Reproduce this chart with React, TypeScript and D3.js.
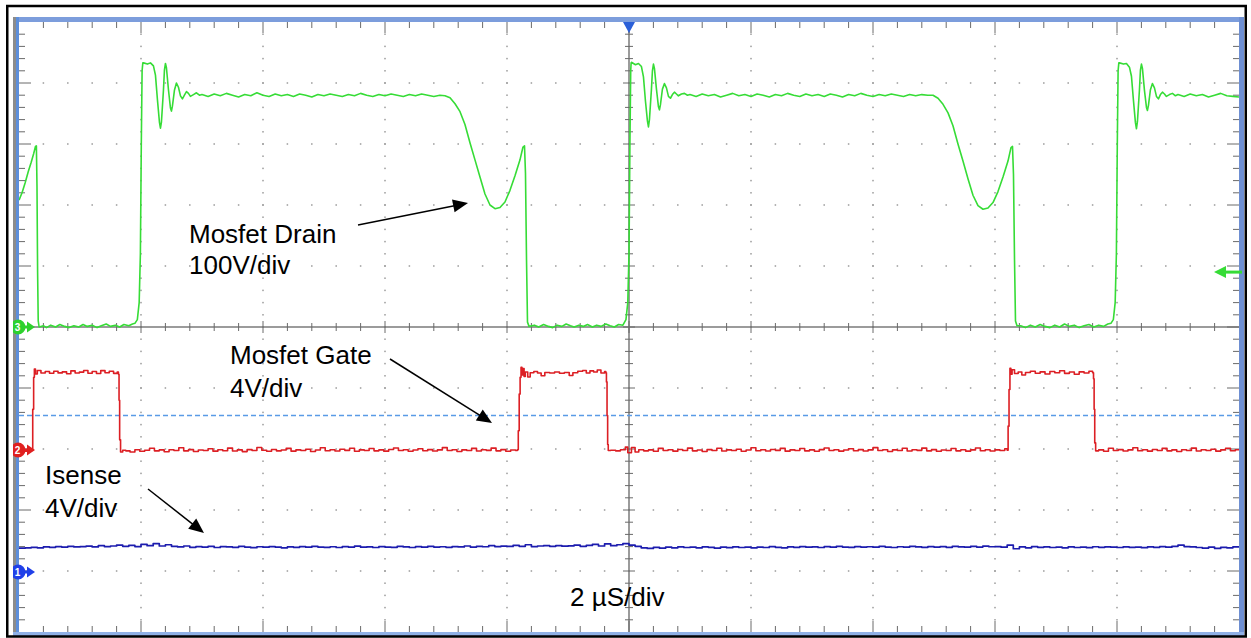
import React from 'react';
import * as d3 from 'd3';

// ---- chart values (read from the scope capture) ----
// time in µs (2 µS/div, 10 divisions), centre = trigger
const timeDomain: [number, number] = [-10, 10];
// Mosfet Drain: 100 V/div, ground on centre line
const drainDomain: [number, number] = [-500, 500];
// Mosfet Gate: 4 V/div, ground two divisions below centre
const gateDomain: [number, number] = [-12, 28];
// Isense: 4 V/div, ground four divisions below centre
const isenseDomain: [number, number] = [-4, 36];
const gateTriggerLevel = 2.2; // V, blue dashed line

// Drain trace [µs, V]
const drainTrace: [number, number][] = [
  [-10.0, 208], [-9.95, 220], [-9.9, 236], [-9.85, 254], [-9.8, 270], [-9.76, 284], [-9.73, 296], [-9.715, 297],
  [-9.705, 230], [-9.695, 90], [-9.685, 10], [-9.67, 0],
  [-9.6, 2], [-9.55, -1], [-9.48, 3], [-9.4, 0], [-9.33, 4], [-9.25, 1], [-9.18, -1], [-9.1, 2], [-9.02, 0],
  [-8.95, 4], [-8.88, 1], [-8.8, 3], [-8.72, -1], [-8.65, 2], [-8.57, 5], [-8.5, 1], [-8.42, 3], [-8.35, 0],
  [-8.28, 4], [-8.2, 2], [-8.14, 5], [-8.1, 6], [-8.06, 12], [-8.03, 40], [-8.01, 120], [-7.995, 300], [-7.982, 420],
  [-7.97, 433],
  [-7.96, 433], [-7.894, 431], [-7.845, 433], [-7.796, 428], [-7.763, 413], [-7.73, 372], [-7.698, 336], [-7.681, 326],
  [-7.665, 336], [-7.632, 388], [-7.616, 421], [-7.599, 432], [-7.583, 425], [-7.55, 389], [-7.517, 359], [-7.501, 354],
  [-7.485, 362], [-7.452, 388], [-7.419, 400], [-7.386, 393], [-7.353, 379], [-7.321, 374], [-7.288, 380], [-7.255, 386],
  [-7.222, 383], [-7.19, 378], [-7.14, 381], [-7.091, 384], [-7.042, 380],
  [-7.0, 381], [-6.9, 378], [-6.8, 382], [-6.7, 379], [-6.6, 383], [-6.5, 380], [-6.4, 377], [-6.3, 381], [-6.2, 379],
  [-6.1, 384], [-6.0, 380], [-5.9, 378], [-5.8, 382], [-5.7, 379], [-5.6, 381], [-5.5, 378], [-5.4, 382], [-5.3, 380],
  [-5.2, 377], [-5.1, 381], [-5.0, 379], [-4.9, 382], [-4.8, 380], [-4.7, 378], [-4.6, 381], [-4.5, 379], [-4.4, 383],
  [-4.3, 380], [-4.2, 378], [-4.1, 381], [-4.0, 379], [-3.9, 382], [-3.8, 380], [-3.7, 378], [-3.6, 381], [-3.5, 379],
  [-3.4, 382], [-3.3, 380], [-3.2, 378], [-3.1, 380],
  [-3.016, 379], [-2.934, 376], [-2.852, 366], [-2.77, 353], [-2.689, 332], [-2.607, 302], [-2.525, 274], [-2.443, 246],
  [-2.361, 218], [-2.279, 200], [-2.197, 194], [-2.115, 196], [-2.033, 205], [-1.951, 224], [-1.869, 248], [-1.787, 274],
  [-1.738, 295], [-1.713, 297], [-1.697, 252], [-1.68, 110], [-1.664, 8], [-1.639, 1],
  [-1.55, 3], [-1.48, 0], [-1.4, 4], [-1.32, 1], [-1.25, -1], [-1.18, 3], [-1.1, 1], [-1.03, 5], [-0.96, 2], [-0.9, 0],
  [-0.82, 3], [-0.75, 1], [-0.68, 4], [-0.6, 0], [-0.53, 3], [-0.46, 1], [-0.38, 5], [-0.31, 2], [-0.24, 0], [-0.17, 4],
  [-0.1, 3], [-0.05, 12], [-0.02, 40], [0.0, 120], [0.015, 300], [0.028, 420], [0.035, 433],
  [0.04, 434], [0.106, 430], [0.155, 432], [0.204, 427], [0.237, 410], [0.27, 370], [0.302, 338], [0.319, 328],
  [0.335, 340], [0.368, 390], [0.384, 420], [0.401, 431], [0.417, 424], [0.45, 390], [0.483, 361], [0.499, 356],
  [0.515, 364], [0.548, 390], [0.581, 399], [0.614, 392], [0.647, 378], [0.679, 375], [0.712, 381], [0.745, 385],
  [0.778, 382], [0.81, 379], [0.86, 382], [0.909, 383], [0.958, 380],
  [1.0, 381], [1.1, 378], [1.2, 382], [1.3, 379], [1.4, 381], [1.5, 377], [1.6, 380], [1.7, 383], [1.8, 379], [1.9, 381],
  [2.0, 378], [2.1, 382], [2.2, 380], [2.3, 377], [2.4, 381], [2.5, 379], [2.6, 383], [2.7, 380], [2.8, 378], [2.9, 382],
  [3.0, 379], [3.1, 381], [3.2, 378], [3.3, 382], [3.4, 380], [3.5, 377], [3.6, 381], [3.7, 379], [3.8, 383], [3.9, 380],
  [4.0, 378], [4.1, 381], [4.2, 379], [4.3, 382], [4.4, 380], [4.5, 378], [4.6, 381], [4.7, 379], [4.8, 381], [4.9, 380],
  [4.984, 380], [5.066, 375], [5.148, 365], [5.23, 351], [5.311, 330], [5.393, 300], [5.475, 272], [5.557, 243],
  [5.639, 216], [5.721, 199], [5.803, 193], [5.885, 195], [5.967, 204], [6.049, 222], [6.131, 246], [6.213, 272],
  [6.262, 294], [6.287, 296], [6.303, 250], [6.32, 110], [6.336, 10], [6.361, 2],
  [6.42, 2], [6.5, -1], [6.58, 3], [6.66, 0], [6.74, 4], [6.82, 1], [6.9, -1], [6.98, 3], [7.06, 0], [7.14, 5], [7.22, 1],
  [7.3, 3], [7.38, -1], [7.46, 2], [7.54, 4], [7.62, 0], [7.7, 3], [7.78, 1], [7.85, 5],
  [7.9, 6], [7.94, 12], [7.97, 40], [7.99, 120], [8.005, 300], [8.018, 420], [8.03, 433],
  [8.04, 433], [8.106, 431], [8.155, 432], [8.204, 426], [8.237, 411], [8.27, 371], [8.302, 335], [8.319, 325],
  [8.335, 337], [8.368, 389], [8.384, 421], [8.401, 431], [8.417, 424], [8.45, 388], [8.483, 360], [8.499, 355],
  [8.515, 363], [8.548, 389], [8.581, 399], [8.614, 392], [8.647, 378], [8.679, 374], [8.712, 381], [8.745, 385],
  [8.778, 382], [8.81, 378], [8.86, 381], [8.909, 383], [8.958, 379],
  [9.0, 381], [9.1, 378], [9.2, 382], [9.3, 379], [9.4, 381], [9.5, 377], [9.6, 380], [9.7, 383], [9.8, 379], [9.9, 378],
  [10.0, 377],
];

// Gate trace [µs, V]
const gateTrace: [number, number][] = [
  [-10, -0.08], [-9.93, -0.15], [-9.87, -0.05], [-9.81, -0.12], [-9.79, -0.08],
  [-9.775, 2.6], [-9.76, 4.7], [-9.748, 5.25], [-9.73, 4.92], [-9.7, 5.15], [-9.64, 4.98], [-9.57, 5.08], [-9.5, 4.97],
  [-9.43, 5.1], [-9.36, 4.99], [-9.29, 5.06], [-9.22, 4.93], [-9.15, 5.12], [-9.08, 4.98], [-9.01, 5.04], [-8.94, 5.15],
  [-8.87, 4.97], [-8.8, 5.08], [-8.73, 4.95], [-8.66, 5.14], [-8.59, 5.0], [-8.52, 5.1], [-8.45, 4.96], [-8.39, 5.04],
  [-8.37, 4.9], [-8.36, 3.2], [-8.35, 0.6], [-8.335, -0.2],
  [-8.3, -0.08], [-8.25, -0.12], [-8.18, -0.2], [-8.1, -0.05], [-8.02, -0.15], [-7.94, -0.08], [-7.86, 0.05],
  [-7.78, -0.12], [-7.7, -0.06], [-7.62, -0.18], [-7.54, -0.05], [-7.46, -0.1], [-7.38, 0.08], [-7.3, -0.12],
  [-7.22, -0.04], [-7.14, -0.16], [-7.06, -0.07], [-6.98, -0.1], [-6.9, 0.02], [-6.82, -0.14], [-6.74, -0.05],
  [-6.66, -0.11], [-6.58, 0.06], [-6.5, -0.13], [-6.42, -0.06], [-6.34, -0.17], [-6.26, -0.04], [-6.18, -0.1],
  [-6.1, 0.1], [-6.02, -0.08], [-5.94, -0.15], [-5.86, -0.03], [-5.78, -0.12], [-5.7, -0.07], [-5.62, 0.04],
  [-5.54, -0.14], [-5.46, -0.06], [-5.38, -0.1], [-5.3, -0.02], [-5.22, -0.16], [-5.14, -0.07], [-5.06, 0.08],
  [-4.98, -0.11], [-4.9, -0.05], [-4.82, -0.13], [-4.74, -0.02], [-4.66, -0.09], [-4.58, 0.05], [-4.5, -0.15],
  [-4.42, -0.06], [-4.34, -0.1], [-4.26, 0.03], [-4.18, -0.12], [-4.1, -0.06], [-4.02, -0.14], [-3.94, -0.03],
  [-3.86, 0.07], [-3.78, -0.1], [-3.7, -0.05], [-3.62, -0.15], [-3.54, -0.07], [-3.46, 0.02], [-3.38, -0.11],
  [-3.3, -0.04], [-3.22, -0.13], [-3.14, -0.06], [-3.06, 0.09], [-2.98, -0.1], [-2.9, -0.05], [-2.82, -0.16],
  [-2.74, -0.06], [-2.66, -0.1], [-2.58, 0.04], [-2.5, -0.13], [-2.42, -0.05], [-2.34, -0.09], [-2.26, 0.06],
  [-2.18, -0.12], [-2.1, -0.04], [-2.02, -0.15], [-1.94, -0.07], [-1.86, -0.1], [-1.83, -0.05],
  [-1.815, 1.2], [-1.8, 3.6], [-1.785, 4.7], [-1.77, 5.35], [-1.755, 4.85], [-1.74, 5.28], [-1.72, 4.75], [-1.7, 5.05],
  [-1.66, 4.72], [-1.62, 5.0], [-1.56, 5.08], [-1.5, 4.98], [-1.44, 4.8], [-1.38, 5.02], [-1.3, 4.98], [-1.22, 5.05],
  [-1.14, 4.97], [-1.06, 5.02], [-0.98, 4.82], [-0.92, 5.0], [-0.84, 5.1], [-0.76, 5.15], [-0.7, 4.98], [-0.64, 5.12],
  [-0.58, 5.05], [-0.52, 5.18], [-0.46, 4.98], [-0.4, 5.08], [-0.38, 5.0], [-0.37, 4.4], [-0.36, 2.2], [-0.35, 0.3],
  [-0.34, -0.1],
  [-0.3, -0.08], [-0.22, -0.12], [-0.14, -0.05], [-0.06, 0.12], [-0.02, -0.25], [0.04, 0.1], [0.1, -0.2], [0.16, -0.05],
  [0.24, -0.12], [0.32, -0.06], [0.4, -0.15], [0.48, 0.04], [0.56, -0.1], [0.64, -0.05], [0.72, -0.14], [0.8, -0.03],
  [0.88, -0.1], [0.96, 0.06], [1.04, -0.12], [1.12, -0.07], [1.2, -0.16], [1.28, -0.04], [1.36, -0.1], [1.44, 0.05],
  [1.52, -0.13], [1.6, -0.06], [1.68, -0.1], [1.76, -0.02], [1.84, -0.15], [1.92, -0.07], [2.0, 0.08], [2.08, -0.11],
  [2.16, -0.05], [2.24, -0.13], [2.32, -0.03], [2.4, -0.09], [2.48, 0.04], [2.56, -0.14], [2.64, -0.06], [2.72, -0.1],
  [2.8, 0.03], [2.88, -0.12], [2.96, -0.06], [3.04, -0.15], [3.12, -0.04], [3.2, 0.07], [3.28, -0.1], [3.36, -0.05],
  [3.44, -0.14], [3.52, -0.07], [3.6, 0.02], [3.68, -0.11], [3.76, -0.04], [3.84, -0.13], [3.92, -0.06], [4.0, 0.09],
  [4.08, -0.1], [4.16, -0.05], [4.24, -0.16], [4.32, -0.06], [4.4, -0.1], [4.48, 0.05], [4.56, -0.13], [4.64, -0.05],
  [4.72, -0.09], [4.8, 0.06], [4.88, -0.12], [4.96, -0.04], [5.04, -0.15], [5.12, -0.07], [5.2, -0.1], [5.28, 0.03],
  [5.36, -0.12], [5.44, -0.05], [5.52, -0.14], [5.6, -0.06], [5.68, 0.07], [5.76, -0.11], [5.84, -0.05], [5.92, -0.13],
  [6.0, -0.06], [6.08, -0.1], [6.16, 0.02], [6.2, -0.08],
  [6.215, 1.5], [6.23, 3.9], [6.245, 5.3], [6.26, 4.9], [6.28, 5.2], [6.32, 4.95], [6.38, 5.05], [6.44, 4.85], [6.5, 5.02],
  [6.58, 5.1], [6.66, 4.97], [6.74, 5.06], [6.82, 4.92], [6.9, 5.08], [6.98, 5.0], [7.06, 5.13], [7.14, 4.96], [7.22, 5.05],
  [7.3, 4.9], [7.38, 5.06], [7.46, 4.98], [7.54, 5.1], [7.6, 5.0], [7.615, 4.6], [7.625, 2.6], [7.635, 0.4], [7.65, -0.12],
  [7.7, -0.06], [7.78, -0.15], [7.86, 0.05], [7.94, -0.1], [8.02, -0.04], [8.1, -0.13], [8.18, -0.06], [8.26, 0.08],
  [8.34, -0.11], [8.42, -0.05], [8.5, -0.14], [8.58, -0.03], [8.66, -0.1], [8.74, 0.04], [8.82, -0.12], [8.9, -0.06],
  [8.98, -0.16], [9.06, -0.05], [9.14, -0.1], [9.22, 0.06], [9.3, -0.13], [9.38, -0.05], [9.46, -0.1], [9.54, -0.02],
  [9.62, -0.14], [9.7, -0.06], [9.78, 0.05], [9.86, -0.11], [9.94, -0.05], [10, -0.1],
];

// Isense samples (V), one every 0.1 µs from -10 µs
const isenseStart = -10;
const isenseStep = 0.1;
const isenseSamples: number[] = [
  1.50, 1.52, 1.55, 1.52, 1.58, 1.55, 1.60, 1.57, 1.62, 1.58,
  1.60, 1.63, 1.58, 1.66, 1.60, 1.64, 1.70, 1.62, 1.68, 1.60,
  1.75, 1.66, 1.80, 1.64, 1.72, 1.62, 1.58, 1.64, 1.55, 1.60,
  1.57, 1.62, 1.54, 1.60, 1.58, 1.55, 1.61, 1.57, 1.53, 1.59,
  1.56, 1.60, 1.57, 1.52, 1.58, 1.55, 1.60, 1.56, 1.62, 1.57,
  1.55, 1.59, 1.54, 1.60, 1.57, 1.63, 1.56, 1.58, 1.54, 1.60,
  1.57, 1.55, 1.61, 1.58, 1.54, 1.60, 1.56, 1.62, 1.57, 1.59,
  1.55, 1.60, 1.58, 1.64, 1.57, 1.62, 1.59, 1.66, 1.60, 1.63,
  1.61, 1.68, 1.62, 1.72, 1.60, 1.64, 1.66, 1.62, 1.67, 1.63,
  1.65, 1.70, 1.62, 1.68, 1.74, 1.64, 1.78, 1.66, 1.72, 1.80,
  1.70, 1.62, 1.52, 1.48, 1.55, 1.50, 1.56, 1.52, 1.58, 1.54,
  1.56, 1.52, 1.58, 1.55, 1.50, 1.57, 1.53, 1.58, 1.54, 1.56,
  1.52, 1.57, 1.54, 1.60, 1.55, 1.52, 1.58, 1.55, 1.60, 1.56,
  1.58, 1.54, 1.60, 1.56, 1.62, 1.57, 1.55, 1.60, 1.57, 1.59,
  1.56, 1.61, 1.57, 1.54, 1.59, 1.56, 1.62, 1.58, 1.55, 1.60,
  1.57, 1.60, 1.55, 1.62, 1.58, 1.56, 1.61, 1.57, 1.63, 1.59,
  1.60, 1.56, 1.70, 1.46, 1.58, 1.52, 1.60, 1.55, 1.58, 1.54,
  1.56, 1.52, 1.58, 1.54, 1.57, 1.53, 1.59, 1.55, 1.58, 1.56,
  1.54, 1.58, 1.55, 1.57, 1.53, 1.58, 1.55, 1.60, 1.56, 1.62,
  1.70, 1.60, 1.58, 1.54, 1.50, 1.56, 1.48, 1.55, 1.52, 1.58, 1.56,
];

const annotations = [
  { lines: ['Mosfet Drain', '100V/div'], x: 189, y: 243, dy: 30.5 },
  { lines: ['Mosfet Gate', '4V/div'], x: 230, y: 364, dy: 33 },
  { lines: ['Isense', '4V/div'], x: 45, y: 484, dy: 33 },
  { lines: ['2 µS/div'], x: 570, y: 606, dy: 0 },
];
const arrows = [
  { x1: 358, y1: 225, x2: 468, y2: 203 },
  { x1: 390, y1: 359, x2: 492, y2: 423 },
  { x1: 148, y1: 489, x2: 204, y2: 533 },
];

// ---- layout ----
const W = 1251;
const H = 638;
const PL = 19, PR = 1239, PT = 22, PB = 632;
const GREEN = '#36dc36';
const RED = '#dc1f24';
const BLUE = '#1c1cae';
const FONT = '"Liberation Sans", Arial, sans-serif';

export default function App() {
  const x = d3.scaleLinear().domain(timeDomain).range([PL, PR]);
  const yDrain = d3.scaleLinear().domain(drainDomain).range([PB, PT]);
  const yGate = d3.scaleLinear().domain(gateDomain).range([PB, PT]);
  const yIs = d3.scaleLinear().domain(isenseDomain).range([PB, PT]);

  const drainLine = d3.line<[number, number]>().x(d => x(d[0])).y(d => yDrain(d[1]));
  const gateLine = d3.line<[number, number]>().x(d => x(d[0])).y(d => yGate(d[1])).curve(d3.curveStepAfter);
  const isPts: [number, number][] = isenseSamples.map((v, i) => [isenseStart + i * isenseStep, v]);
  const isLine = d3.line<[number, number]>().x(d => x(d[0])).y(d => yIs(d[1])).curve(d3.curveStepAfter);

  const divX = (PR - PL) / 10;
  const divY = (PB - PT) / 10;
  const cx = x(0);
  const cy = yDrain(0);

  const dots: JSX.Element[] = [];
  for (let k = 1; k < 10; k++) {
    if (k === 5) continue;
    const gx = PL + k * divX;
    for (let j = 1; j < 50; j++) {
      const gy = PT + j * (divY / 5);
      dots.push(<rect key={`v${k}-${j}`} x={gx - 0.75} y={gy - 0.75} width={1.5} height={1.5} fill="#9a9a9a" />);
    }
    const gy2 = PT + k * divY;
    for (let j = 1; j < 50; j++) {
      const gx2 = PL + j * (divX / 5);
      dots.push(<rect key={`h${k}-${j}`} x={gx2 - 0.75} y={gy2 - 0.75} width={1.5} height={1.5} fill="#9a9a9a" />);
    }
  }

  const ticks: JSX.Element[] = [];
  const tickColor = '#6a6a6a';
  for (let j = 1; j < 50; j++) {
    const tx = PL + j * (divX / 5);
    const major = j % 5 === 0;
    const len = major ? 11 : 6;
    ticks.push(<line key={`tt${j}`} x1={tx} x2={tx} y1={PT} y2={PT + len} stroke={tickColor} strokeWidth={1} />);
    ticks.push(<line key={`tb${j}`} x1={tx} x2={tx} y1={PB} y2={PB - len} stroke={tickColor} strokeWidth={1} />);
    ticks.push(<line key={`tc${j}`} x1={tx} x2={tx} y1={cy - (major ? 6 : 4)} y2={cy + (major ? 6 : 4)} stroke={tickColor} strokeWidth={1} />);
  }
  for (let j = 1; j < 50; j++) {
    const ty = PT + j * (divY / 5);
    const major = j % 5 === 0;
    const len = major ? 12 : 6;
    ticks.push(<line key={`tl${j}`} x1={PL} x2={PL + len} y1={ty} y2={ty} stroke={tickColor} strokeWidth={1} />);
    ticks.push(<line key={`tr${j}`} x1={PR} x2={PR - len} y1={ty} y2={ty} stroke={tickColor} strokeWidth={1} />);
    ticks.push(<line key={`tm${j}`} x1={cx - (major ? 6 : 4)} x2={cx + (major ? 6 : 4)} y1={ty} y2={ty} stroke={tickColor} strokeWidth={1} />);
  }

  const leftMarkers = [
    { y: yDrain(0), color: '#2ed12e', label: '3' },
    { y: yGate(0) + 1, color: '#e02020', label: '2' },
    { y: yIs(0) + 1, color: '#2040e8', label: '1' },
  ];

  const arrowHead = (a: { x1: number; y1: number; x2: number; y2: number }) => {
    const ang = Math.atan2(a.y2 - a.y1, a.x2 - a.x1);
    const L = 15, Wd = 6.5;
    const bx = a.x2 - L * Math.cos(ang);
    const by = a.y2 - L * Math.sin(ang);
    const px = -Math.sin(ang) * Wd;
    const py = Math.cos(ang) * Wd;
    return `${a.x2},${a.y2} ${bx + px},${by + py} ${bx - px},${by - py}`;
  };

  return (
    <svg width={W} height={H} style={{ position: 'absolute', left: 0, top: 0, display: 'block', background: '#fff' }}>
      <defs>
        <clipPath id="plot">
          <rect x={PL} y={PT} width={PR - PL} height={PB - PT} />
        </clipPath>
        <clipPath id="frameclip">
          <rect x={13} y={17} width={1231} height={619} />
        </clipPath>
      </defs>
      <rect x={0} y={0} width={W} height={H} fill="#fff" />
      {/* scope frame */}
      <rect x={13} y={17} width={1231} height={5} fill="#7c9ddc" />
      <rect x={13} y={17} width={3} height={619} fill="#8c8c8c" />
      <rect x={16} y={17} width={3} height={619} fill="#5d8fdb" />
      <rect x={PR} y={17} width={5} height={619} fill="#6e8fd2" />
      <rect x={13} y={PB} width={1231} height={4} fill="#8fb0e6" />
      <rect x={PL} y={PT} width={PR - PL} height={PB - PT} fill="#fff" />

      {/* grid */}
      {dots}
      <line x1={cx} x2={cx} y1={PT} y2={PB} stroke="#7a7a7a" strokeWidth={1.5} />
      <line x1={PL} x2={PR} y1={cy} y2={cy} stroke="#7a7a7a" strokeWidth={1.5} />
      {ticks}

      {/* trigger level */}
      <line x1={PL} x2={PR} y1={yGate(gateTriggerLevel)} y2={yGate(gateTriggerLevel)} stroke="#5a9be6" strokeWidth={1.5} strokeDasharray="5,3" />

      {/* traces */}
      <g clipPath="url(#plot)" fill="none" strokeLinejoin="round">
        <path d={isLine(isPts) ?? ''} stroke={BLUE} strokeWidth={1.7} />
        <path d={gateLine(gateTrace) ?? ''} stroke={RED} strokeWidth={1.6} />
        <path d={drainLine(drainTrace) ?? ''} stroke={GREEN} strokeWidth={1.6} />
      </g>

      {/* channel markers */}
      <g clipPath="url(#frameclip)">
        {leftMarkers.map((m, i) => (
          <g key={i}>
            <circle cx={18} cy={m.y} r={7.5} fill={m.color} />
            <line x1={22} x2={29} y1={m.y} y2={m.y} stroke={m.color} strokeWidth={3} />
            <polygon points={`${35},${m.y} ${27},${m.y - 5.5} ${27},${m.y + 5.5}`} fill={m.color} />
            <text x={17.5} y={m.y + 3.5} fontSize={10} fontWeight="bold" fill="#fff" textAnchor="middle" fontFamily={FONT}>{m.label}</text>
          </g>
        ))}
      </g>
      <polygon points={`${cx - 6},${PT} ${cx + 6},${PT} ${cx},${PT + 11}`} fill="#2a5fd8" />
      <g>
        <line x1={1224} x2={1242} y1={yDrain(90)} y2={yDrain(90)} stroke={GREEN} strokeWidth={3} />
        <polygon points={`${1214},${yDrain(90)} ${1226},${yDrain(90) - 6} ${1226},${yDrain(90) + 6}`} fill={GREEN} />
      </g>

      {/* annotations */}
      {annotations.map((a, i) => (
        <text key={i} x={a.x} y={a.y} fontSize={26} fontFamily={FONT} fill="#000">
          {a.lines.map((l, j) => (
            <tspan key={j} x={a.x} y={a.y + j * a.dy}>{l}</tspan>
          ))}
        </text>
      ))}
      {arrows.map((a, i) => {
        const ang = Math.atan2(a.y2 - a.y1, a.x2 - a.x1);
        return (
          <g key={i}>
            <line x1={a.x1} y1={a.y1} x2={a.x2 - 10 * Math.cos(ang)} y2={a.y2 - 10 * Math.sin(ang)} stroke="#000" strokeWidth={1.5} />
            <polygon points={arrowHead(a)} fill="#000" />
          </g>
        );
      })}

      {/* outer border */}
      <rect x={7.25} y={6} width={1238.5} height={630.5} fill="none" stroke="#000" strokeWidth={2.5} />
    </svg>
  );
}
